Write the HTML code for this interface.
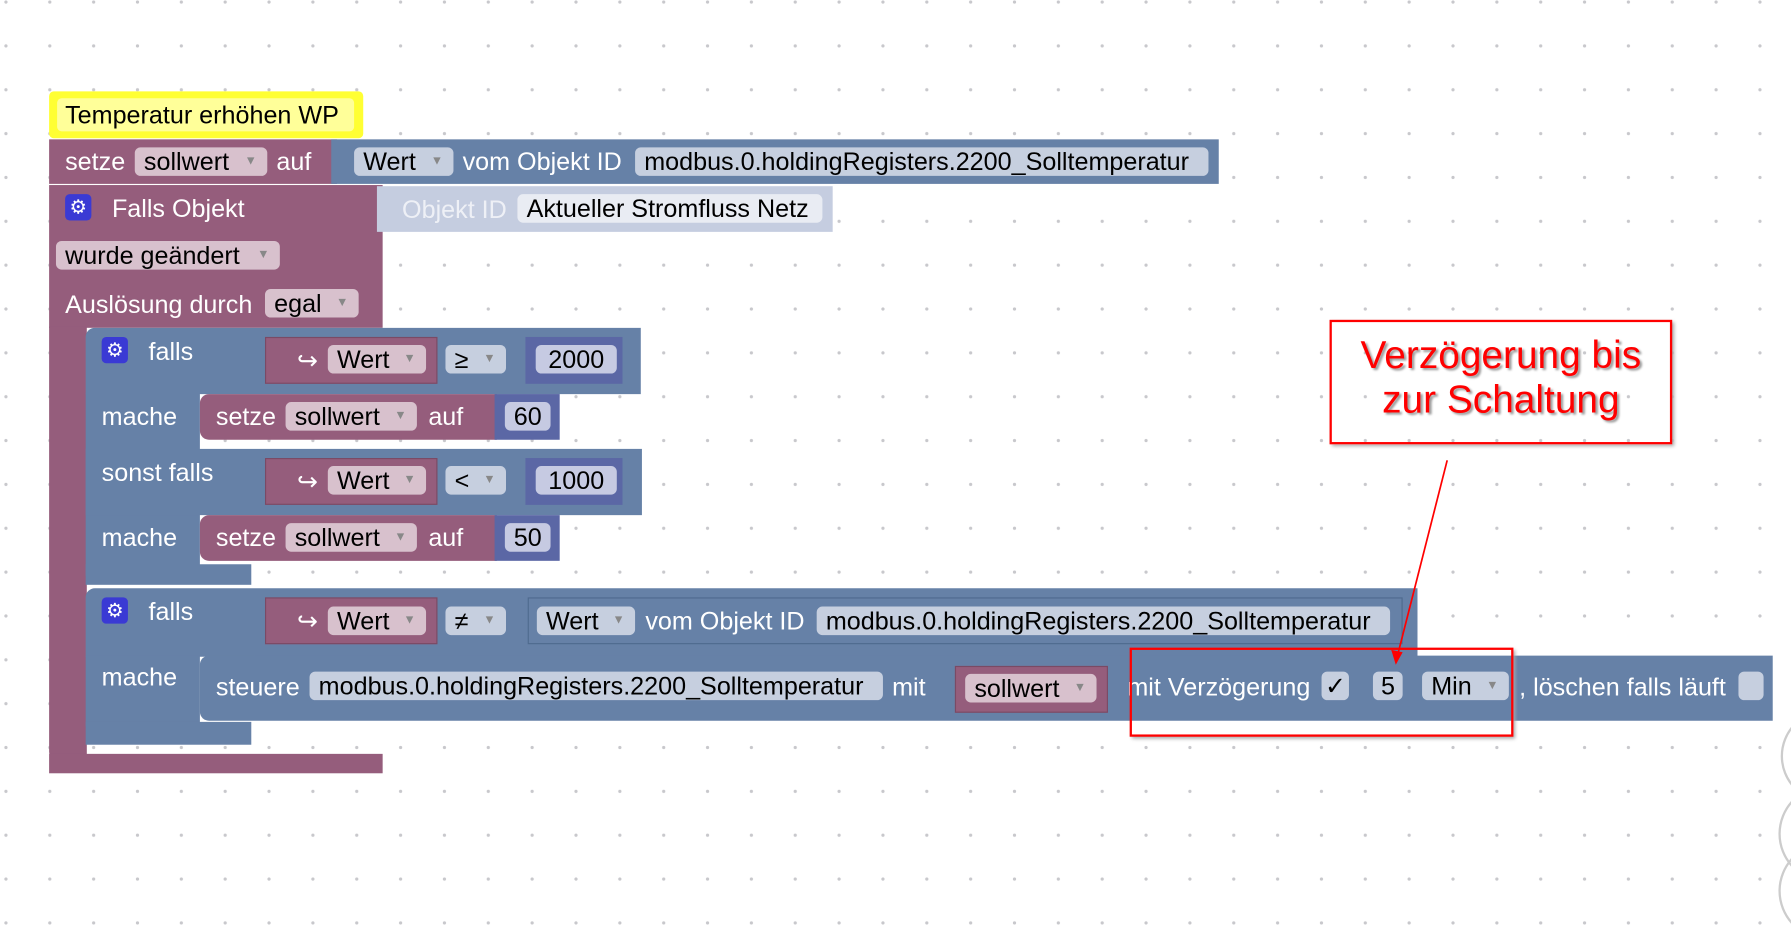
<!DOCTYPE html>
<html><head><meta charset="utf-8"><style>
html,body{margin:0;padding:0;width:1791px;height:939px;overflow:hidden;background:#fff}
#f{position:absolute;left:0;top:0;width:1568px;height:822px;transform:scale(1.14222);transform-origin:0 0;
font-family:"Liberation Sans",sans-serif;font-size:22px;
background-image:radial-gradient(circle,#c8c8cc 1.3px,transparent 1.6px);background-size:38.4px 38.4px;background-position:-14px 21px}
div{position:absolute;box-sizing:border-box}
.p{background:#955d7c}
.b{background:#6681a7}
.t{color:#fff;white-space:nowrap;line-height:25px}
.fp{background:#d8c1cd;border-radius:5px;color:#000;white-space:nowrap;padding-left:8px;line-height:25px;height:25px}
.fb{background:#c6cfdf;border-radius:5px;color:#000;white-space:nowrap;padding-left:8px;line-height:25px;height:25px}
.dd{font-size:11px;color:#888;position:absolute;right:9px;top:0}
.n{background:#5b67a5}
.fn{background:#c6cae2;border-radius:5px;color:#000;text-align:center;line-height:25px;height:25px}
.gear{width:23px;height:23px;background:#3a3ad4;border-radius:4px;color:#fff;font-size:17px;text-align:center;line-height:23px}
</style></head><body><div id="f">
<!-- comment -->
<div style="left:43px;top:80px;width:275px;height:41px;background:#ffff33;border-radius:4px"></div>
<div style="left:50px;top:86px;width:260px;height:29px;background:#ffff99;border-radius:4px"></div>
<div class="t" style="left:57px;top:88px;color:#000">Temperatur erhöhen WP</div>
<!-- setze row -->
<div class="p" style="left:43px;top:122px;width:252px;height:39px"></div>
<div class="t" style="left:57px;top:129px">setze</div>
<div class="fp" style="left:118px;top:129px;width:116px">sollwert<span class="dd">▼</span></div>
<div class="t" style="left:242px;top:129px">auf</div>
<div class="b" style="left:290px;top:122px;width:777px;height:39px"></div>
<div class="fb" style="left:310px;top:129px;width:87px">Wert<span class="dd">▼</span></div>
<div class="t" style="left:405px;top:129px">vom Objekt ID</div>
<div class="fb" style="left:556px;top:129px;width:502px">modbus.0.holdingRegisters.2200_Solltemperatur</div>
<!-- falls objekt -->
<div class="p" style="left:43px;top:162px;width:292px;height:125px"></div>
<div class="p" style="left:43px;top:286px;width:33px;height:380px;border-bottom-left-radius:8px"></div>
<div class="p" style="left:43px;top:660px;width:292px;height:17px"></div>
<div style="left:330px;top:163px;width:399px;height:40px;background:#c5cde0"></div>
<div class="t" style="left:352px;top:171px;color:#eef0f6">Objekt ID</div>
<div class="fb" style="left:453px;top:170px;width:267px;background:#e9ecf3">Aktueller Stromfluss Netz</div>
<div class="gear" style="left:57px;top:170px">⚙</div>
<div class="t" style="left:98px;top:170px">Falls Objekt</div>
<div class="fp" style="left:49px;top:211px;width:196px">wurde geändert<span class="dd">▼</span></div>
<div class="t" style="left:57px;top:254px">Auslösung durch</div>
<div class="fp" style="left:232px;top:253px;width:82px">egal<span class="dd">▼</span></div>
<!-- falls 1 -->
<div class="b" style="left:75px;top:287px;width:486px;height:58px;border-top-left-radius:8px"></div>
<div class="b" style="left:75px;top:344px;width:100px;height:160px"></div>
<div class="b" style="left:75px;top:393px;width:487px;height:58px"></div>
<div class="b" style="left:75px;top:494px;width:145px;height:18px"></div>
<div class="gear" style="left:89px;top:295px">⚙</div>
<div class="t" style="left:130px;top:295px">falls</div>
<div class="t" style="left:89px;top:352px">mache</div>
<div class="t" style="left:89px;top:401px">sonst falls</div>
<div class="t" style="left:89px;top:458px">mache</div>
<div class="p" style="left:232px;top:295px;width:151px;height:41px;border:1px solid #7a4a65"></div>
<div class="t" style="left:260px;top:303px">↪</div>
<div class="fp" style="left:287px;top:302px;width:86px">Wert<span class="dd">▼</span></div>
<div class="fb" style="left:390px;top:302px;width:53px">≥<span class="dd">▼</span></div>
<div class="n" style="left:460px;top:295px;width:85px;height:41px"></div>
<div class="fn" style="left:469px;top:302px;width:71px">2000</div>
<div class="p" style="left:175px;top:345px;width:260px;height:40px;border-radius:8px 0 0 8px"></div>
<div class="t" style="left:189px;top:352px">setze</div>
<div class="fp" style="left:250px;top:352px;width:115px">sollwert<span class="dd">▼</span></div>
<div class="t" style="left:375px;top:352px">auf</div>
<div class="n" style="left:433px;top:345px;width:57px;height:40px"></div>
<div class="fn" style="left:442px;top:352px;width:40px">60</div>
<div class="p" style="left:232px;top:401px;width:151px;height:41px;border:1px solid #7a4a65"></div>
<div class="t" style="left:260px;top:409px">↪</div>
<div class="fp" style="left:287px;top:408px;width:86px">Wert<span class="dd">▼</span></div>
<div class="fb" style="left:390px;top:408px;width:53px">&lt;<span class="dd">▼</span></div>
<div class="n" style="left:460px;top:401px;width:85px;height:41px"></div>
<div class="fn" style="left:469px;top:408px;width:71px">1000</div>
<div class="p" style="left:175px;top:451px;width:260px;height:40px;border-radius:8px 0 0 8px"></div>
<div class="t" style="left:189px;top:458px">setze</div>
<div class="fp" style="left:250px;top:458px;width:115px">sollwert<span class="dd">▼</span></div>
<div class="t" style="left:375px;top:458px">auf</div>
<div class="n" style="left:433px;top:451px;width:57px;height:40px"></div>
<div class="fn" style="left:442px;top:458px;width:40px">50</div>
<!-- falls 2 -->
<div class="b" style="left:75px;top:515px;width:1166px;height:60px;border-top-left-radius:8px"></div>
<div class="b" style="left:75px;top:574px;width:100px;height:62px"></div>
<div class="b" style="left:75px;top:632px;width:145px;height:20px"></div>
<div class="gear" style="left:89px;top:523px">⚙</div>
<div class="t" style="left:130px;top:523px">falls</div>
<div class="t" style="left:89px;top:580px">mache</div>
<div class="p" style="left:232px;top:523px;width:151px;height:41px;border:1px solid #7a4a65"></div>
<div class="t" style="left:260px;top:531px">↪</div>
<div class="fp" style="left:287px;top:531px;width:86px">Wert<span class="dd">▼</span></div>
<div class="fb" style="left:390px;top:531px;width:53px">≠<span class="dd">▼</span></div>
<div class="b" style="left:462px;top:523px;width:766px;height:41px;border:1px solid #4f6a8e"></div>
<div class="fb" style="left:470px;top:531px;width:86px">Wert<span class="dd">▼</span></div>
<div class="t" style="left:565px;top:531px">vom Objekt ID</div>
<div class="fb" style="left:715px;top:531px;width:502px">modbus.0.holdingRegisters.2200_Solltemperatur</div>
<div class="b" style="left:175px;top:574px;width:1377px;height:57px;border-radius:8px 0 0 8px"></div>
<div class="t" style="left:189px;top:589px">steuere</div>
<div class="fb" style="left:271px;top:588px;width:502px">modbus.0.holdingRegisters.2200_Solltemperatur</div>
<div class="t" style="left:781px;top:589px">mit</div>
<div class="p" style="left:836px;top:583px;width:134px;height:41px;border:1px solid #7a4a65"></div>
<div class="fp" style="left:845px;top:590px;width:115px">sollwert<span class="dd">▼</span></div>
<div class="t" style="left:987px;top:589px">mit Verzögerung</div>
<div class="fb" style="left:1157px;top:588px;width:24px;padding-left:3px">✓</div>
<div class="fb" style="left:1202px;top:588px;width:26px;padding-left:7px">5</div>
<div class="fb" style="left:1245px;top:588px;width:76px">Min<span class="dd">▼</span></div>
<div class="t" style="left:1330px;top:589px">, löschen falls läuft</div>
<div class="fb" style="left:1522px;top:588px;width:22px"></div>
<!-- annotations -->
<div style="left:1164px;top:280px;width:300px;height:109px;border:2px solid #f00;box-shadow:2px 2px 3px #aaa"></div>
<div style="left:1164px;top:292px;width:300px;text-align:center;color:#f00;font-size:34px;line-height:39px;text-shadow:2px 2px 2px #999">Verzögerung bis<br>zur Schaltung</div>
<div style="left:989px;top:567px;width:336px;height:78px;border:2px solid #f00;box-shadow:2px 2px 3px #aaa"></div>
<svg style="position:absolute;left:0;top:0" width="1568" height="822"><line x1="1267" y1="403" x2="1224" y2="572" stroke="#f00" stroke-width="1.5"/><polygon points="1222,582 1218,569 1228,571" fill="#f00"/>
<circle cx="1600" cy="662" r="40" fill="none" stroke="#ccc" stroke-width="2"/><circle cx="1600" cy="730" r="42" fill="none" stroke="#ccc" stroke-width="2"/><circle cx="1600" cy="780" r="42" fill="none" stroke="#ccc" stroke-width="2"/></svg>
</div></body></html>
